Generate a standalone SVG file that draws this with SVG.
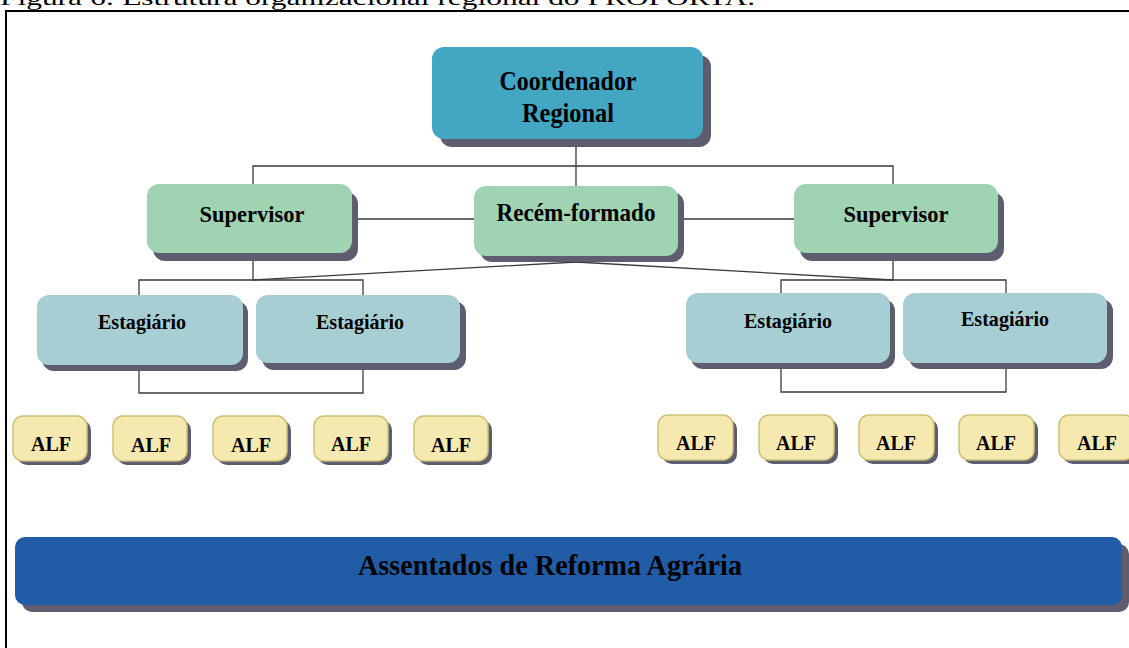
<svg xmlns="http://www.w3.org/2000/svg" width="1129" height="648" viewBox="0 0 1129 648">
<style>
.sh{fill:#5e5c6f}
.coord{fill:#43a6c2}
.green{fill:#9fd3b1}
.est{fill:#a7cfd3}
.alf{fill:#f6e9b0;stroke:#cdc177;stroke-width:1.5}
.bar{fill:#215ca7}
.t{font-family:"Liberation Serif","Times New Roman",serif;font-weight:bold;fill:#000;text-anchor:middle}
.c{fill:none;stroke:#3a3a3a;stroke-width:1.3}
</style>
<rect width="1129" height="648" fill="#fff"/>
<text x="0" y="5" font-family="Liberation Serif, serif" font-size="22" textLength="755" lengthAdjust="spacingAndGlyphs">Figura 6: Estrutura organizacional regional do PROFORTA.</text>
<path d="M6 700 V11 H1135" fill="none" stroke="#000" stroke-width="2"/>

<g id="connectors">
<path class="c" d="M576 147 V186"/>
<path class="c" d="M253 184 V166 H893 V184"/>
<path class="c" d="M358 219 H474 M684 219 H794"/>
<path class="c" d="M253 261 V280 M139 295 V280 H363 V295"/>
<path class="c" d="M576 262 L253 280 M576 262 L893 280"/>
<path class="c" d="M893 260 V280 M781 293 V280 H1006 V293"/>
<path class="c" d="M139 371 V393 H363 V370"/>
<path class="c" d="M781 369 V392 H1006 V369"/>
</g>

<g id="coordenador">
<rect class="sh" x="440" y="55" width="271" height="92" rx="12"/>
<rect class="coord" x="432" y="47" width="271" height="92" rx="12"/>
<text class="t" x="568" y="90" font-size="27" textLength="137" lengthAdjust="spacingAndGlyphs">Coordenador</text>
<text class="t" x="568" y="122" font-size="27" textLength="92" lengthAdjust="spacingAndGlyphs">Regional</text>
</g>

<g id="supervisor-left">
<rect class="sh" x="153" y="192" width="205" height="69" rx="12"/>
<rect class="green" x="147" y="184" width="205" height="69" rx="12"/>
<text class="t" x="252" y="222" font-size="24" textLength="105" lengthAdjust="spacingAndGlyphs">Supervisor</text>
</g>

<g id="recem-formado">
<rect class="sh" x="480" y="192" width="204" height="70" rx="12"/>
<rect class="green" x="474" y="186" width="204" height="70" rx="12"/>
<text class="t" x="576" y="221" font-size="25" textLength="159" lengthAdjust="spacingAndGlyphs">Recém-formado</text>
</g>

<g id="supervisor-right">
<rect class="sh" x="800" y="192" width="204" height="69" rx="12"/>
<rect class="green" x="794" y="184" width="204" height="69" rx="12"/>
<text class="t" x="896" y="222" font-size="24" textLength="105" lengthAdjust="spacingAndGlyphs">Supervisor</text>
</g>

<g id="estagiario-1">
<rect class="sh" x="42" y="301" width="206" height="70" rx="12"/>
<rect class="est" x="37" y="295" width="206" height="70" rx="12"/>
<text class="t" x="142" y="329" font-size="22" textLength="88" lengthAdjust="spacingAndGlyphs">Estagiário</text>
</g>
<g id="estagiario-2">
<rect class="sh" x="262" y="301" width="204" height="69" rx="12"/>
<rect class="est" x="256" y="295" width="204" height="68" rx="12"/>
<text class="t" x="360" y="329" font-size="22" textLength="88" lengthAdjust="spacingAndGlyphs">Estagiário</text>
</g>
<g id="estagiario-3">
<rect class="sh" x="691" y="299" width="204" height="70" rx="12"/>
<rect class="est" x="686" y="293" width="204" height="70" rx="12"/>
<text class="t" x="788" y="328" font-size="22" textLength="88" lengthAdjust="spacingAndGlyphs">Estagiário</text>
</g>
<g id="estagiario-4">
<rect class="sh" x="909" y="299" width="204" height="70" rx="12"/>
<rect class="est" x="903" y="293" width="204" height="70" rx="12"/>
<text class="t" x="1005" y="326" font-size="22" textLength="88" lengthAdjust="spacingAndGlyphs">Estagiário</text>
</g>

<g id="alf-1"><rect class="sh" x="17" y="420" width="74" height="45" rx="10"/><rect class="alf" x="13" y="416" width="74" height="45" rx="10"/><text class="t" x="51" y="451" font-size="22" textLength="40" lengthAdjust="spacingAndGlyphs">ALF</text></g>
<g id="alf-2"><rect class="sh" x="117" y="420" width="74" height="45" rx="10"/><rect class="alf" x="113" y="416" width="74" height="45" rx="10"/><text class="t" x="151" y="452" font-size="22" textLength="40" lengthAdjust="spacingAndGlyphs">ALF</text></g>
<g id="alf-3"><rect class="sh" x="217" y="420" width="74" height="45" rx="10"/><rect class="alf" x="213" y="416" width="74" height="45" rx="10"/><text class="t" x="251" y="452" font-size="22" textLength="40" lengthAdjust="spacingAndGlyphs">ALF</text></g>
<g id="alf-4"><rect class="sh" x="318" y="420" width="74" height="45" rx="10"/><rect class="alf" x="314" y="416" width="74" height="45" rx="10"/><text class="t" x="351" y="451" font-size="22" textLength="40" lengthAdjust="spacingAndGlyphs">ALF</text></g>
<g id="alf-5"><rect class="sh" x="418" y="420" width="74" height="45" rx="10"/><rect class="alf" x="414" y="416" width="74" height="45" rx="10"/><text class="t" x="451" y="452" font-size="22" textLength="40" lengthAdjust="spacingAndGlyphs">ALF</text></g>

<g id="alf-6"><rect class="sh" x="662" y="419" width="75" height="45" rx="10"/><rect class="alf" x="658" y="415" width="75" height="45" rx="10"/><text class="t" x="696" y="450" font-size="22" textLength="40" lengthAdjust="spacingAndGlyphs">ALF</text></g>
<g id="alf-7"><rect class="sh" x="763" y="419" width="75" height="45" rx="10"/><rect class="alf" x="759" y="415" width="75" height="45" rx="10"/><text class="t" x="796" y="450" font-size="22" textLength="40" lengthAdjust="spacingAndGlyphs">ALF</text></g>
<g id="alf-8"><rect class="sh" x="863" y="419" width="75" height="45" rx="10"/><rect class="alf" x="859" y="415" width="75" height="45" rx="10"/><text class="t" x="896" y="450" font-size="22" textLength="40" lengthAdjust="spacingAndGlyphs">ALF</text></g>
<g id="alf-9"><rect class="sh" x="963" y="419" width="75" height="45" rx="10"/><rect class="alf" x="959" y="415" width="75" height="45" rx="10"/><text class="t" x="996" y="450" font-size="22" textLength="40" lengthAdjust="spacingAndGlyphs">ALF</text></g>
<g id="alf-10"><rect class="sh" x="1063" y="419" width="75" height="45" rx="10"/><rect class="alf" x="1059" y="415" width="75" height="45" rx="10"/><text class="t" x="1097" y="450" font-size="22" textLength="40" lengthAdjust="spacingAndGlyphs">ALF</text></g>

<g id="assentados">
<rect class="sh" x="22" y="544" width="1107" height="68" rx="10"/>
<rect class="bar" x="15" y="537" width="1107" height="68" rx="10"/>
<text class="t" x="550" y="575" font-size="30" textLength="384" lengthAdjust="spacingAndGlyphs">Assentados de Reforma Agrária</text>
</g>
</svg>
